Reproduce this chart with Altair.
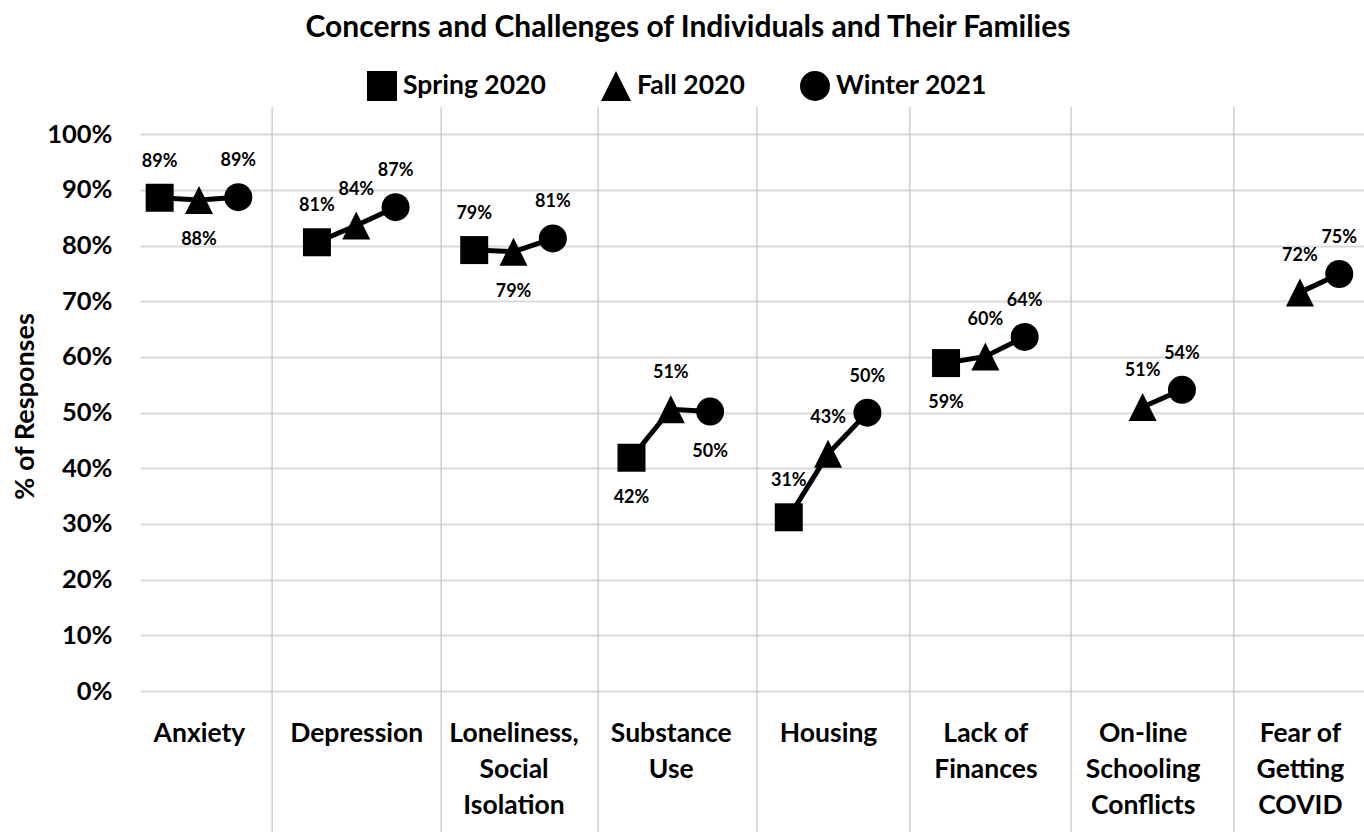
import json
import altair as alt
import pandas as pd

# ---------------- data ----------------
categories = ["Anxiety", "Depression", "Loneliness, Social Isolation", "Substance Use",
              "Housing", "Lack of Finances", "On-line Schooling Conflicts", "Fear of Getting COVID"]
label_lines = [["Anxiety"], ["Depression"], ["Loneliness,", "Social", "Isolation"],
               ["Substance", "Use"], ["Housing"], ["Lack of", "Finances"],
               ["On-line", "Schooling", "Conflicts"], ["Fear of", "Getting", "COVID"]]
series = ["Spring 2020", "Fall 2020", "Winter 2021"]
spring = [88.6, 80.6, 79.2, 41.9, 31.2, 58.9, None, None]
fall = [88.2, 83.6, 78.9, 50.6, 42.6, 60.1, 51.0, 71.6]
winter = [88.7, 86.9, 81.3, 50.2, 50.0, 63.6, 54.1, 74.9]
labels_below = [("Anxiety", "Fall 2020"), ("Loneliness, Social Isolation", "Fall 2020"),
                ("Substance Use", "Spring 2020"), ("Substance Use", "Winter 2021"),
                ("Lack of Finances", "Spring 2020")]
# category separator lines, in slot units of the x axis (4 slots per category)
category_boundaries = [2.86, 7.16, 11.15, 15.19, 19.08, 23.18, 27.32]
y_ticks = [0, 10, 20, 30, 40, 50, 60, 70, 80, 90, 100]

rows = []
for ci, cat in enumerate(categories):
    for si, (s, vals) in enumerate(zip(series, [spring, fall, winter])):
        v = vals[ci]
        if v is None:
            continue
        rows.append({"category": cat, "series": s, "slot": 4 * ci + si, "value": v,
                     "below": (cat, s) in labels_below})
df = pd.DataFrame(rows)
sep_df = pd.DataFrame({"b": category_boundaries})

W, H = 1224, 584
FONT = "Lato"
TRIANGLE = "M0,-1L1,1L-1,1Z"

x_scale = alt.Scale(domain=[-0.5, 30.63], nice=False, zero=False)
y_scale = alt.Scale(domain=[0, 104.9], nice=False, zero=True)

label_expr = json.dumps(label_lines) + "[floor(datum.value / 4)]"

x_axis = alt.Axis(values=[4 * i + 1 for i in range(len(categories))], labelExpr=label_expr,
                  grid=False, ticks=False, domain=False, title=None, labelAngle=0,
                  labelFont=FONT, labelFontSize=26.5, labelFontWeight="bold", labelColor="black",
                  labelPadding=29, labelLineHeight=36, labelOverlap=False, labelBound=False,
                  labelFlush=False, labelBaseline="top")
y_axis = alt.Axis(values=y_ticks, labelExpr="datum.value + '%'", grid=True, gridColor="#d9d9d9",
                  gridWidth=2, ticks=False, domain=False, labelPadding=28,
                  labelFont=FONT, labelFontSize=25.5, labelFontWeight="bold", labelColor="black",
                  title="% of Responses", titleFont=FONT, titleFontSize=27, titleFontWeight="bold",
                  titleColor="black", titleX=-115, titleY=299, titleAngle=270,
                  titleAlign="center", titleBaseline="middle")

X = alt.X("slot:Q", scale=x_scale, axis=x_axis)
Y = alt.Y("value:Q", scale=y_scale, axis=y_axis)

base = alt.Chart(df)

seps = alt.Chart(sep_df).mark_rule(color="#c4c4c4", strokeWidth=1.2).encode(
    x=alt.X("b:Q", scale=x_scale, axis=x_axis),
    y=alt.value(0),
    y2=alt.value(H + 141),
)

lines = base.mark_line(color="black", strokeWidth=5).encode(
    x=X, y=Y,
    detail="category:N",
    order="slot:Q",
)

points = base.mark_point(filled=True, size=784, opacity=1, color="black", strokeWidth=0).encode(
    x=X, y=Y,
    shape=alt.Shape("series:N", sort=series,
                    scale=alt.Scale(domain=series, range=["square", TRIANGLE, "circle"]),
                    legend=alt.Legend(title=None, orient="none", direction="horizontal",
                                      legendX=227, legendY=-36, symbolSize=900,
                                      symbolFillColor="black", symbolStrokeWidth=0,
                                      symbolType="circle", labelFont=FONT, labelFontSize=26.5,
                                      labelFontWeight="bold", labelColor="black",
                                      labelOffset=6, columnPadding=55, padding=0,
                                      labelLimit=400)),
)

text_common = dict(font=FONT, fontSize=18, fontWeight="bold", color="black", baseline="middle",
                   align="center")
labels_above = base.transform_filter("!datum.below").transform_calculate(
    lab="format(datum.value, '.0f') + '%'").mark_text(dy=-36, **text_common).encode(
    x=X, y=Y, text="lab:N",
)
labels_bel = base.transform_filter("datum.below").transform_calculate(
    lab="format(datum.value, '.0f') + '%'").mark_text(dy=40, **text_common).encode(
    x=X, y=Y, text="lab:N",
)

chart = alt.layer(seps, lines, points, labels_above, labels_bel).properties(
    width=W, height=H,
    autosize="none",
    background="white",
    padding={"left": 140, "top": 107, "right": 0, "bottom": 141},
    title=alt.TitleParams("Concerns and Challenges of Individuals and Their Families",
                          font=FONT, fontSize=30, fontWeight="bold", color="black",
                          anchor="middle", dx=-64, dy=-24),
).configure_view(
    stroke="transparent", strokeWidth=0
).configure_axis(domain=False)

chart.save("out.html", embed_options={"renderer": "svg", "actions": False})
